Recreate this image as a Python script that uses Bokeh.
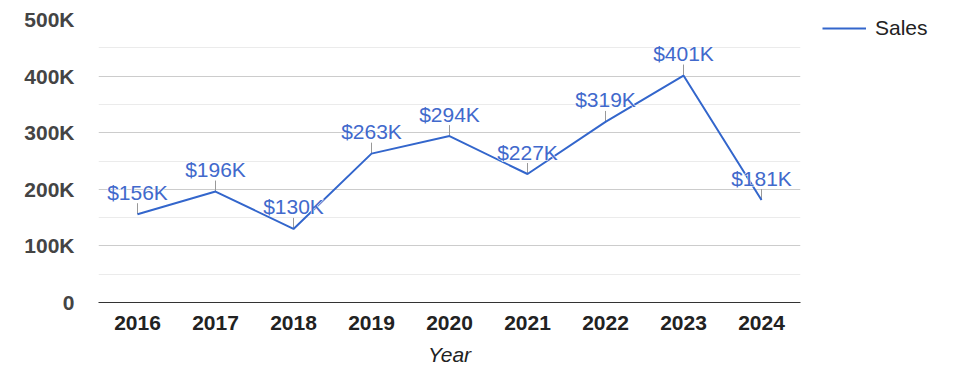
from bokeh.plotting import figure
from bokeh.models import (ColumnDataSource, FixedTicker, Legend, LegendItem, Range1d)
from bokeh.core.properties import value
from bokeh.embed import file_html
from bokeh.resources import INLINE

years = ["2016", "2017", "2018", "2019", "2020", "2021", "2022", "2023", "2024"]
sales = [156000, 196000, 130000, 263000, 294000, 227000, 319000, 401000, 181000]
sales_labels = ["$156K", "$196K", "$130K", "$263K", "$294K", "$227K", "$319K", "$401K", "$181K"]
y_ticks = [0, 100000, 200000, 300000, 400000, 500000]
y_tick_labels = ["0", "100K", "200K", "300K", "400K", "500K"]
y_minor = [50000, 150000, 250000, 350000, 450000]

FONT = "Liberation Sans"
FS = "21px"
BLUE = "#3366cc"
FRAME_H = 283
Y_MAX = 500000
stem_px = 11
stem = [v + Y_MAX * stem_px / FRAME_H for v in sales]

src = ColumnDataSource(dict(x=years, y=sales, lab=sales_labels, stem=stem))

p = figure(x_range=years, y_range=Range1d(0, Y_MAX), width=965, height=374,
           frame_width=702, frame_height=FRAME_H,
           min_border_left=98, min_border_right=165, min_border_top=19, min_border_bottom=72,
           output_backend="svg", toolbar_location=None, tools="")
p.x_range.range_padding = 0
p.outline_line_color = None

p.yaxis.ticker = FixedTicker(ticks=y_ticks, minor_ticks=y_minor)
p.yaxis.major_label_overrides = {t: l for t, l in zip(y_ticks, y_tick_labels)}
p.yaxis.axis_line_color = None
p.yaxis.major_tick_line_color = None
p.yaxis.minor_tick_line_color = None
p.yaxis.major_label_standoff = 18
p.yaxis.major_label_text_font = FONT
p.yaxis.major_label_text_font_style = "bold"
p.yaxis.major_label_text_font_size = FS
p.yaxis.major_label_text_color = "#444444"

p.ygrid.grid_line_color = "#cccccc"
p.ygrid.minor_grid_line_color = "#ebebeb"
p.xgrid.grid_line_color = None

p.xaxis.axis_line_color = "#333333"
p.xaxis.major_tick_line_color = None
p.xaxis.minor_tick_line_color = None
p.xaxis.major_label_standoff = 7
p.xaxis.major_label_text_font = FONT
p.xaxis.major_label_text_font_style = "bold"
p.xaxis.major_label_text_font_size = FS
p.xaxis.major_label_text_color = "#222222"
p.xaxis.axis_label = "Year"
p.xaxis.axis_label_text_font = FONT
p.xaxis.axis_label_text_font_style = "italic"
p.xaxis.axis_label_text_font_size = FS
p.xaxis.axis_label_text_color = "#222222"
p.xaxis.axis_label_standoff = 10

p.segment(x0="x", y0="y", x1="x", y1="stem", source=src, line_color="#999999", line_width=1)
line = p.line(x="x", y="y", source=src, line_color=BLUE, line_width=2)
# white halo under the labels
p.text(x="x", y="y", text="lab", source=src, y_offset=-22,
       text_font=value(FONT), text_font_size=FS, text_color="white",
       text_align="center", text_baseline="middle",
       text_outline_color="white")
p.text(x="x", y="y", text="lab", source=src, y_offset=-22,
       text_font=value(FONT), text_font_size=FS, text_color="#4169cc",
       text_align="center", text_baseline="middle")

legend = Legend(items=[LegendItem(label="Sales", renderers=[line])],
                location=(22, 262), glyph_width=44, glyph_height=20,
                label_standoff=9, padding=0, margin=0, spacing=0,
                border_line_color=None, background_fill_alpha=0,
                label_text_font=FONT, label_text_font_size=FS,
                label_text_color="#222222")
p.add_layout(legend, "right")

open("out.html", "w").write(file_html(p, INLINE))
